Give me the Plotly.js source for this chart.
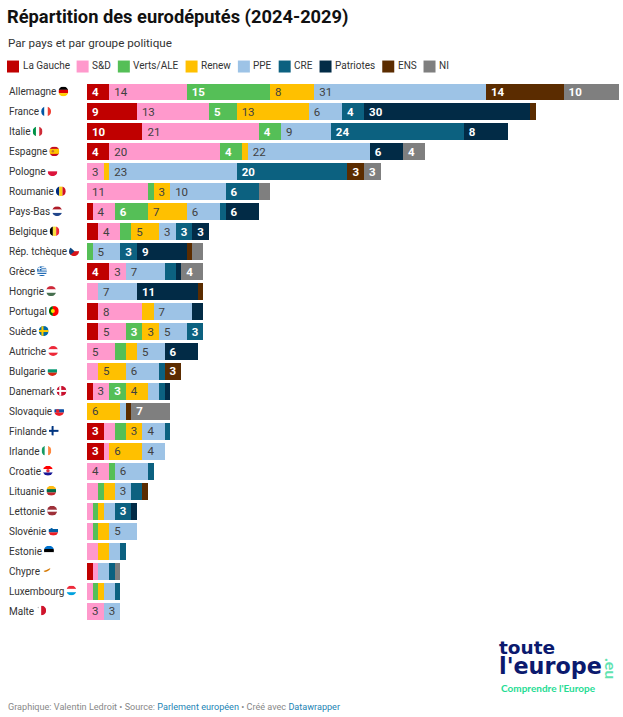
<!DOCTYPE html>
<html lang="fr">
<head>
<meta charset="utf-8">
<script src="https://cdn.plot.ly/plotly-3.0.1.min.js"></script>
<style>html,body{margin:0;padding:0;background:#fff}#chart{width:623px;height:717px}</style>
</head>
<body>
<div id="chart"></div>
<script>
const countries = ["Allemagne","France","Italie","Espagne","Pologne","Roumanie","Pays-Bas","Belgique","Rép. tchèque","Grèce","Hongrie","Portugal","Suède","Autriche","Bulgarie","Danemark","Slovaquie","Finlande","Irlande","Croatie","Lituanie","Lettonie","Slovénie","Estonie","Chypre","Luxembourg","Malte"];
const groups = ["La Gauche","S&D","Verts/ALE","Renew","PPE","CRE","Patriotes","ENS","NI"];
const groupColors = ["#c00000","#ff99cc","#55bf57","#ffc000","#9dc3e6","#0c6180","#022b46","#5b2c00","#7f7f7f"];
const lightGroups = ["S&D","Renew","PPE"];

const laGauche  = [4,9,10,4,0,0,1,2,0,4,0,2,2,0,0,1,0,3,3,0,0,0,0,0,1,0,0];
const sd        = [14,13,21,20,3,11,4,4,0,3,2,8,5,5,2,3,0,2,1,4,2,1,1,2,1,1,3];
const vertsAle  = [15,5,4,4,0,1,6,2,1,0,0,0,3,2,0,3,0,2,0,1,1,1,1,0,0,1,0];
const renew     = [8,13,0,1,1,3,7,5,0,0,0,2,3,2,5,4,6,3,6,0,2,1,2,2,0,1,0];
const ppe       = [31,6,9,22,23,10,6,3,5,7,7,7,5,5,6,2,1,4,4,6,3,2,5,2,2,2,3];
const cre       = [0,4,24,0,20,6,1,3,3,2,0,0,3,0,1,1,0,1,0,1,2,3,0,1,1,1,0];
const patriotes = [0,30,8,6,0,0,6,3,9,1,11,2,0,6,0,1,0,0,0,0,0,1,0,0,0,0,0];
const ens       = [14,1,0,0,3,0,0,0,1,0,1,0,0,0,3,0,1,0,0,0,1,0,0,0,0,0,0];
const ni        = [10,0,0,4,3,2,0,0,2,4,0,0,0,0,0,0,7,0,0,0,0,0,0,0,1,0,0];
const seriesValues = [laGauche,sd,vertsAle,renew,ppe,cre,patriotes,ens,ni];

const W = 623, H = 717, L = 87, R = 4, T = 81.5, B = 95.5;
const PW = W - L - R, PH = H - T - B;
const px = x => (x - L) / PW;
const py = y => 1 - (y - T) / PH;
const FONT = "Roboto, sans-serif";

const ctx = document.createElement("canvas").getContext("2d");
function textWidth(s, size) { ctx.font = size + "px Roboto"; return ctx.measureText(s).width; }

/* circular flags */
const rect = (x,y,w,h,c) => `<rect x='${x}' y='${y}' width='${w}' height='${h}' fill='${c}'/>`;
const hs = (...c) => c.map((k,i)=>rect(0,i*20/c.length,20,20/c.length+0.1,k)).join("");
const vs = (...c) => c.map((k,i)=>rect(i*20/c.length,0,20/c.length+0.1,20,k)).join("");
const cross = (bg,fg) => rect(0,0,20,20,bg)+rect(0,8,20,4,fg)+rect(5.5,0,4,20,fg);
const dot = (cx,cy,r,c) => `<circle cx='${cx}' cy='${cy}' r='${r}' fill='${c}'/>`;
const flags = [
  hs("#000","#dd0000","#ffce00"),
  vs("#0055a4","#fff","#ef4135"),
  vs("#009246","#fff","#ce2b37"),
  rect(0,0,20,20,"#c60b1e")+rect(0,5,20,10,"#ffc400")+dot(7,10,2.5,"#c8702a"),
  hs("#fff","#dc143c"),
  vs("#002b7f","#fcd116","#ce1126"),
  hs("#ae1c28","#fff","#21468b"),
  vs("#000","#fae042","#ed2939"),
  hs("#fff","#d7141a")+"<path d='M0 0L11 10L0 20Z' fill='#11457e'/>",
  hs("#0d5eaf","#fff","#0d5eaf","#fff","#0d5eaf","#fff","#0d5eaf","#fff","#0d5eaf")+rect(0,0,9,9,"#0d5eaf")+rect(3.5,0,2,9,"#fff")+rect(0,3.5,9,2,"#fff"),
  hs("#ce2939","#fff","#477050"),
  rect(0,0,8,20,"#006600")+rect(8,0,12,20,"#ff0000")+dot(8,10,4,"#ffe000"),
  cross("#006aa7","#fecc00"),
  hs("#ed2939","#fff","#ed2939"),
  hs("#fff","#00966e","#d62612"),
  cross("#c8102e","#fff"),
  hs("#fff","#0b4ea2","#ee1c25")+dot(7,10,3.5,"#ee1c25"),
  cross("#fff","#003580"),
  vs("#169b62","#fff","#ff883e"),
  hs("#f00","#fff","#171796")+dot(10,10,3.5,"#e03040"),
  hs("#fdb913","#006a44","#c1272d"),
  rect(0,0,20,20,"#9e3039")+rect(0,8,20,4,"#fff"),
  hs("#fff","#005da4","#ed1c24")+dot(6.5,7,2.5,"#005da4"),
  hs("#0072ce","#000","#fff"),
  rect(0,0,20,20,"#fff")+"<path d='M3 11L9 9L17 5L15 9L10 12L6 13Z' fill='#d57800'/>",
  hs("#ed2939","#fff","#00a1de"),
  vs("#fff","#cf142b")+dot(4,4,1.5,"#bbb")
];
const flagUri = inner => "data:image/svg+xml," + encodeURIComponent(
  `<svg xmlns='http://www.w3.org/2000/svg' viewBox='0 0 20 20'><defs><clipPath id='c'><circle cx='10' cy='10' r='10'/></clipPath></defs><g clip-path='url(#c)'>${inner}</g></svg>`);

const traces = groups.map((g,i) => {
  const light = lightGroups.includes(g);
  return {
    type: "bar", orientation: "h", name: g,
    y: countries, x: seriesValues[i],
    marker: {color: groupColors[i], line: {width: 0}},
    text: seriesValues[i].map(v => v >= 3 ? String(v) : ""),
    textposition: "inside", insidetextanchor: "start", textangle: 0, constraintext: "none",
    cliponaxis: false,
    textfont: {family: FONT, size: 11.5, color: light ? "#404040" : "#ffffff", weight: light ? 400 : 700},
    hovertemplate: "%{y}<br>" + g + " : %{x}<extra></extra>"
  };
});

const annotations = [], shapes = [], images = [];
const note = (text, x, y, size, color, extra) => annotations.push(Object.assign({
  text, x: px(x), y: py(y), xref: "paper", yref: "paper", xanchor: "left", yanchor: "middle",
  showarrow: false, borderpad: 0, font: {family: FONT, size, color}
}, extra || {}));

note("Par pays et par groupe politique", 7, 42.5, 11.65, "#333333");

/* legend row */
const LEG = 10;
let lx = 7;
groups.forEach((g,i) => {
  shapes.push({type: "rect", xref: "paper", yref: "paper", x0: px(lx), x1: px(lx+12), y0: py(60), y1: py(72),
    fillcolor: groupColors[i], line: {width: 0}});
  note(g.replace("&","&amp;"), lx + 14.5, 65, LEG, "#333333");
  lx += 14.5 + textWidth(g, LEG) + 8;
});

/* country labels and flags */
const LAB = 10;
countries.forEach((c,i) => {
  const cy = 91.5 + i * 20;
  note(c, 8, cy, LAB, "#333333");
  images.push({source: flagUri(flags[i]), xref: "paper", yref: "paper",
    x: px(8 + textWidth(c, LAB) + 3), y: py(cy - 5.5), sizex: 10/PW, sizey: 10/PH,
    xanchor: "left", yanchor: "top", layer: "above", sizing: "contain"});
});

/* footer */
note('Graphique: Valentin Ledroit • Source: <span style="color:#1c84b4">Parlement européen</span> • Créé avec <span style="color:#1c84b4">Datawrapper</span>',
  7, 708, 9.1, "#888888");

/* logo */
const navy = "#0b1a6e", mint = "#25dc94";
const logoFont = "'DejaVu Sans', sans-serif";
note("toute", 498, 648, 18.5, navy, {font: {family: logoFont, size: 18.5, color: navy, weight: 700}});
note("l'europe", 498, 667, 22.3, navy, {font: {family: logoFont, size: 22.3, color: navy, weight: 700}});
note("<b>.eu</b>", 601, 669, 16, "#5fe3b0", {font: {family: "Lato, sans-serif", size: 16, color: "#5fe3b0"}, textangle: 90});
note("<b>Comprendre l'Europe</b>", 500, 689, 10, mint, {font: {family: "Lato, sans-serif", size: 10, color: mint}});

const layout = {
  width: W, height: H, autosize: false,
  margin: {l: L, r: R, t: T, b: B, pad: 0},
  paper_bgcolor: "#fff", plot_bgcolor: "#fff",
  barmode: "stack", bargap: 0.15,
  showlegend: false,
  title: {text: "<b>Répartition des eurodéputés (2024-2029)</b>", x: 7/W, xanchor: "left", xref: "container",
    y: 1 - 17/H, yanchor: "middle", yref: "container", font: {family: FONT, size: 18.3, color: "#111111"}},
  xaxis: {range: [0,96], visible: false, fixedrange: true},
  yaxis: {type: "category", categoryorder: "array", categoryarray: countries, autorange: "reversed",
    showticklabels: false, showgrid: false, zeroline: false, ticks: "", fixedrange: true},
  annotations, shapes, images,
  font: {family: FONT}
};
Plotly.newPlot("chart", traces, layout, {displayModeBar: false, responsive: false}).then(() => {
  document.querySelectorAll("#chart .barlayer .bartext").forEach(t => {
    t.setAttribute("transform", "translate(2,0) " + (t.getAttribute("transform") || ""));
  });
});
</script>
</body>
</html>
